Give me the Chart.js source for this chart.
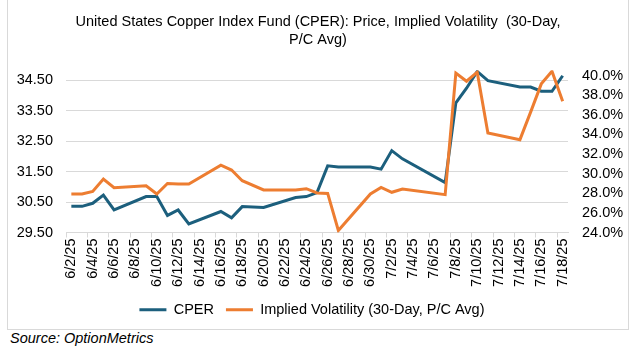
<!DOCTYPE html>
<html lang="en">
<head>
<meta charset="UTF-8">
<title>CPER: Price, Implied Volatility</title>
<script src="https://cdn.jsdelivr.net/npm/chart.js"></script>
<style>
    body { margin: 0; background: #fff; font-family: "Liberation Sans", Arial, sans-serif; }
    #frame { position: absolute; left: 7px; top: -1px; width: 622px; height: 331px; border: 1px solid #d9d9d9; box-sizing: border-box; }
    #chart { position: absolute; left: 0; top: 0; }
    #source { position: absolute; left: 10px; top: 330px; font-size: 14.5px; line-height: 17px; font-style: italic; color: #000; }
</style>
</head>
<body>
<div id="frame"><canvas id="chart" width="620" height="329"></canvas></div>
<div id="source">Source: OptionMetrics</div>

<script>
    // every calendar day on the axis (date axis, label every 2nd day)
    const axisDays = [
        '6/2/25', '6/3/25', '6/4/25', '6/5/25', '6/6/25', '6/7/25', '6/8/25', '6/9/25', '6/10/25',
        '6/11/25', '6/12/25', '6/13/25', '6/14/25', '6/15/25', '6/16/25', '6/17/25', '6/18/25',
        '6/19/25', '6/20/25', '6/21/25', '6/22/25', '6/23/25', '6/24/25', '6/25/25', '6/26/25',
        '6/27/25', '6/28/25', '6/29/25', '6/30/25', '7/1/25', '7/2/25', '7/3/25', '7/4/25',
        '7/5/25', '7/6/25', '7/7/25', '7/8/25', '7/9/25', '7/10/25', '7/11/25', '7/12/25',
        '7/13/25', '7/14/25', '7/15/25', '7/16/25', '7/17/25', '7/18/25'
    ];

    // trading days that have values
    const tradingDays = [
        '6/2/25', '6/3/25', '6/4/25', '6/5/25', '6/6/25',
        '6/9/25', '6/10/25', '6/11/25', '6/12/25', '6/13/25',
        '6/16/25', '6/17/25', '6/18/25', '6/20/25',
        '6/23/25', '6/24/25', '6/25/25', '6/26/25', '6/27/25',
        '6/30/25', '7/1/25', '7/2/25', '7/3/25',
        '7/7/25', '7/8/25', '7/9/25', '7/10/25', '7/11/25',
        '7/14/25', '7/15/25', '7/16/25', '7/17/25', '7/18/25'
    ];

    const cperPrice = [
        30.36, 30.36, 30.46, 30.73, 30.24,
        30.68, 30.68, 30.06, 30.24, 29.78,
        30.19, 29.98, 30.35, 30.32,
        30.65, 30.68, 30.81, 31.69, 31.65,
        31.65, 31.58, 32.19, 31.92,
        31.14, 33.76, 34.24, 34.79, 34.49,
        34.28, 34.28, 34.14, 34.14, 34.65
    ];

    // implied volatility, percent
    const impliedVol = [
        27.93, 27.93, 28.19, 29.45, 28.57,
        28.77, 27.93, 29.00, 28.94, 28.94,
        30.87, 30.37, 29.28, 28.34,
        28.34, 28.47, 28.03, 27.99, 24.20,
        27.93, 28.60, 28.10, 28.44,
        27.86, 40.27, 39.43, 40.35, 34.15,
        33.47, 36.28, 39.16, 40.45, 37.40
    ];

    const priceTicks = [29.5, 30.5, 31.5, 32.5, 33.5, 34.5];
    const volTicks = [24, 26, 28, 30, 32, 34, 36, 38, 40];

    // put each trading-day value on its calendar slot, gaps stay null
    function onAxis(values) {
        return axisDays.map(d => {
            let i = tradingDays.indexOf(d);
            return i >= 0 ? values[i] : null;
        });
    }

    const font = { family: '"Liberation Sans", Arial, sans-serif', size: 14.5 };

    new Chart(document.getElementById('chart'), {
        type: 'line',
        data: {
            labels: axisDays,
            datasets: [
                {
                    label: 'CPER',
                    data: onAxis(cperPrice),
                    yAxisID: 'y',
                    borderColor: '#1c5f7d',
                    backgroundColor: '#1c5f7d',
                    borderWidth: 3,
                    pointRadius: 0,
                    tension: 0,
                    spanGaps: true,
                    order: 1
                },
                {
                    label: 'Implied Volatility (30-Day, P/C Avg)',
                    data: onAxis(impliedVol),
                    yAxisID: 'y1',
                    borderColor: '#ed7d31',
                    backgroundColor: '#ed7d31',
                    borderWidth: 3,
                    pointRadius: 0,
                    tension: 0,
                    spanGaps: true,
                    order: 0
                }
            ]
        },
        options: {
            responsive: false,
            animation: false,
            layout: { padding: { top: 0, left: 0, right: 0, bottom: 2 } },
            plugins: {
                title: {
                    display: true,
                    text: ['United States Copper Index Fund (CPER): Price, Implied Volatility  (30-Day,', 'P/C Avg)'],
                    color: '#000',
                    font: { family: font.family, size: 14.5, weight: 'normal', lineHeight: 1.25 },
                    padding: { top: 13, bottom: 21 }
                },
                legend: {
                    position: 'bottom',
                    labels: {
                        color: '#000',
                        font: font,
                        usePointStyle: true,
                        pointStyle: 'line',
                        pointStyleWidth: 27,
                        padding: 12,
                        sort: (a, b) => a.datasetIndex - b.datasetIndex,
                        // a bit more room after the first entry, like the original
                        generateLabels: chart => {
                            let items = Chart.defaults.plugins.legend.labels.generateLabels(chart);
                            items[0].text = items[0].text + '   ';
                            return items;
                        }
                    }
                },
                tooltip: { enabled: false }
            },
            scales: {
                x: {
                    offset: true,
                    afterFit: s => { s.height = 58; },
                    grid: {
                        offset: true,
                        drawOnChartArea: false,
                        drawTicks: true,
                        tickLength: 5,
                        color: c => (c.index !== undefined && c.index % 2 === 0) ? '#d9d9d9' : 'rgba(0,0,0,0)'
                    },
                    border: { display: true, color: '#d9d9d9' },
                    ticks: {
                        autoSkip: false,
                        maxRotation: 90,
                        minRotation: 90,
                        padding: 1,
                        color: '#000',
                        font: font,
                        callback: function (v, i) { return i % 2 === 0 ? axisDays[i] : ''; }
                    }
                },
                y: {
                    position: 'left',
                    min: 29.5,
                    max: 34.83,
                    afterFit: s => { s.width = 58; },
                    afterBuildTicks: s => { s.ticks = priceTicks.map(v => ({ value: v })); },
                    grid: { color: '#d9d9d9', drawTicks: false },
                    border: { display: false },
                    ticks: {
                        autoSkip: false,
                        padding: 13,
                        color: '#000',
                        font: font,
                        callback: v => v.toFixed(2)
                    }
                },
                y1: {
                    position: 'right',
                    min: 24,
                    max: 40.55,
                    afterFit: s => { s.width = 60; },
                    afterBuildTicks: s => { s.ticks = volTicks.map(v => ({ value: v })); },
                    grid: { display: false, drawTicks: false },
                    border: { display: false },
                    ticks: {
                        autoSkip: false,
                        padding: 14,
                        color: '#000',
                        font: font,
                        callback: v => v.toFixed(1) + '%'
                    }
                }
            }
        }
    });
</script>
</body>
</html>
